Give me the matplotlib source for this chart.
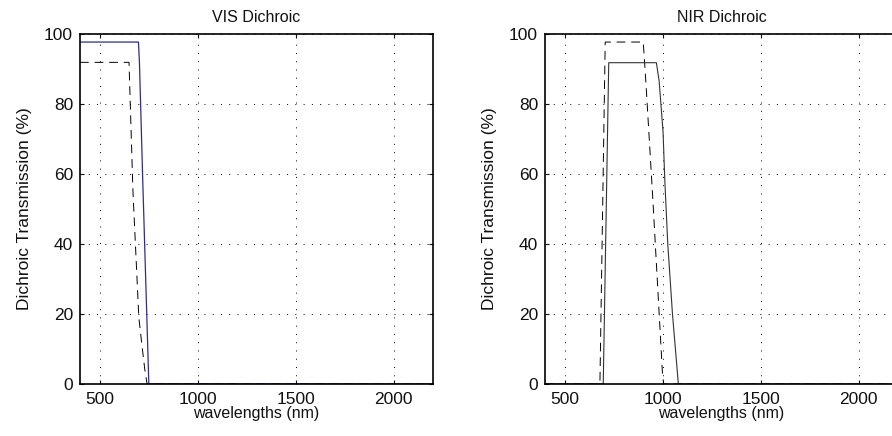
import matplotlib
matplotlib.use("Agg")
import matplotlib.pyplot as plt
import numpy as np

plt.rcParams['font.family'] = ['Liberation Sans', 'DejaVu Sans']

# VIS dichroic: transmission curves (nm, %)
vis_solid_wl = [400, 698, 703, 720, 751, 2200]
vis_solid_tr = [97.7, 97.7, 92, 58, 0, 0]
vis_dash_wl = [400, 650, 652, 670, 700, 713, 730, 742, 2200]
vis_dash_tr = [91.9, 91.9, 88, 55, 19, 12.5, 4.3, 0, 0]

# NIR dichroic
nir_solid_wl = [400, 697, 725, 968, 982, 1002, 1011, 1026, 1050, 1080, 2200]
nir_solid_tr = [0, 0, 91.8, 91.8, 86.6, 72, 58, 40, 20, 0, 0]
nir_dash_wl = [400, 680, 707, 901, 914, 948, 999, 1005, 2200]
nir_dash_tr = [0, 0, 97.7, 97.7, 86.6, 54.6, 3, 0, 0]

xticks = [500, 1000, 1500, 2000]
yticks = [0, 20, 40, 60, 80, 100]

fig = plt.figure(figsize=(8.92, 4.36), dpi=100)
ax1 = fig.add_axes([80 / 892, 52 / 436, 353 / 892, 350 / 436])
ax2 = fig.add_axes([545 / 892, 52 / 436, 353 / 892, 350 / 436])


def style(ax, title):
    ax.set_xlim(400, 2200)
    ax.set_ylim(0, 100)
    ax.set_xticks(xticks)
    ax.set_yticks(yticks)
    ax.tick_params(direction='in', length=3, width=0.8, top=True, right=True,
                   labelsize=12.5, pad=5, colors='#111111')
    ax.tick_params(axis='x', pad=6)
    ax.grid(True, color='black', linestyle=(0, (1, 7.5)), linewidth=0.7)
    for s in ax.spines.values():
        s.set_linewidth(1.2)
    ax.set_title(title, fontsize=11.5, pad=9, color='#111111')
    ax.set_xlabel('wavelengths (nm)', fontsize=11.5, labelpad=-1, color='#111111')
    ax.set_ylabel('Dichroic Transmission (%)', fontsize=12.5, labelpad=9,
                  color='#111111')


ax1.plot(vis_dash_wl, vis_dash_tr, color='black', lw=0.7, dashes=(9, 6))
ax1.plot(vis_solid_wl, vis_solid_tr, color='#2e2e86', lw=0.9)
style(ax1, 'VIS Dichroic')

ax2.plot(nir_dash_wl, nir_dash_tr, color='black', lw=0.7, dashes=(9, 6))
ax2.plot(nir_solid_wl, nir_solid_tr, color='#333333', lw=0.8)
style(ax2, 'NIR Dichroic')

fig.savefig('out.png', dpi=100)
